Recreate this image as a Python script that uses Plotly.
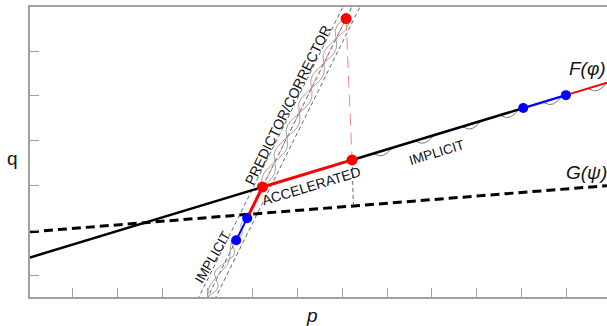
import numpy as np
import plotly.graph_objects as go

# ---- geometry of the two curves (p, q units) ----
F_INTERCEPT, F_SLOPE = 0.882, 0.3033      # F(phi): solid line
G_INTERCEPT, G_SLOPE = 1.454, 0.0802      # G(psi): dashed line
P_MAX, Q_MAX = 12.86, 6.472

# iteration points
implicit_low_p = [4.595, 4.84]            # implicit steps near G
implicit_low_q = [1.265, 1.76]
accel_p = [4.84, 5.18, 7.178]             # accelerated path
predictor_top = (7.045, 6.214)            # predictor overshoot
implicit_high_p = [10.993, 11.944]        # implicit steps along F
arc_starts = [7.65, 8.58, 9.63, 10.47, 11.43, 12.43]
band_offsets = [-0.2, 0.0, 0.18]
x_tick0, y_tick0 = 0.958, 0.49


def F(p):
    return F_INTERCEPT + F_SLOPE * np.asarray(p, dtype=float)


def G(p):
    return G_INTERCEPT + G_SLOPE * np.asarray(p, dtype=float)


accel_q = [implicit_low_q[1], float(F(accel_p[1])), float(F(accel_p[2]))]
implicit_high_q = [float(F(v)) for v in implicit_high_p]

# predictor direction through the first accelerated point
band_slope = (predictor_top[1] - accel_q[1]) / (predictor_top[0] - accel_p[1])


def band_p(q, off=0.0):
    return accel_p[1] + (np.asarray(q) - accel_q[1]) / band_slope + off


RED = "#ff0000"
BLUE = "#0000ff"
GRAY = "#555555"

fig = go.Figure()


def line(x, y, color, width, dash="solid"):
    fig.add_trace(go.Scatter(x=x, y=y, mode="lines", hoverinfo="skip",
                             line=dict(color=color, width=width, dash=dash)))


# predictor/corrector band
qq = np.array([-0.2, Q_MAX + 0.2])
for off in band_offsets:
    line(band_p(qq, off), qq, GRAY, 0.9, "4px,3px")

# braided corrector sweeps inside the band
def braid(q0, q1, amp, period, phase):
    q = np.linspace(q0, q1, 160)
    return band_p(q) + amp * np.sin(2 * np.pi * (q - q0) / period + phase), q

for ph in (0.0, np.pi):
    x, y = braid(accel_q[1], predictor_top[1], 0.12, 1.1, ph)
    line(x, y, "#8a8a8a", 0.8)
x, y = braid(0.0, implicit_low_q[0], 0.12, 0.75, 0.0)
line(x, y, "#8a8a8a", 0.8)
x, y = braid(0.0, implicit_low_q[0], 0.08, 1.0, np.pi)
line(x, y, "#8a8a8a", 0.8)
x, y = braid(implicit_low_q[0], implicit_low_q[1], 0.07, 0.5, 0.0)
line(x, y, "#8a8a8a", 0.8)

# implicit sweeps hanging under F
for s in arc_starts:
    p = np.linspace(s, min(s + 0.43, P_MAX), 30)
    line(p, F(p) - 0.11 * np.sin(np.pi * (p - s) / 0.43), "#666666", 0.9)

# G(psi)
line([0, P_MAX], list(G([0, P_MAX])), "black", 3, "9px,5px")

# F(phi) pieces
line([0, accel_p[1]], list(F([0, accel_p[1]])), "black", 2.5)
line([accel_p[2], implicit_high_p[0]], list(F([accel_p[2], implicit_high_p[0]])), "black", 2.5)
line([implicit_high_p[1], P_MAX], list(F([implicit_high_p[1], P_MAX])), RED, 2)

# predictor extrapolation and projection back onto F, then down to G
line([accel_p[1], predictor_top[0]], [accel_q[1], predictor_top[1]], "#e86a6a", 0.9, "5px,4px")
line([predictor_top[0], accel_p[2]], [predictor_top[1], accel_q[2]], "#f08a8a", 1, "12px,7px")
line([accel_p[2], accel_p[2] + 0.03], [accel_q[2], float(G(accel_p[2] + 0.03))], GRAY, 0.9, "4px,3px")

# implicit (blue) and accelerated (red) paths
line(implicit_low_p, implicit_low_q, BLUE, 2)
line(accel_p, accel_q, RED, 3)
line(implicit_high_p, implicit_high_q, BLUE, 2.5)

# markers
fig.add_trace(go.Scatter(x=implicit_low_p + implicit_high_p, y=implicit_low_q + implicit_high_q,
                         mode="markers", hoverinfo="skip",
                         marker=dict(color=BLUE, size=10, line=dict(width=0))))
fig.add_trace(go.Scatter(x=accel_p[1:] + [predictor_top[0]], y=accel_q[1:] + [predictor_top[1]],
                         mode="markers", hoverinfo="skip",
                         marker=dict(color=RED, size=11, line=dict(width=0))))

FONT = "Liberation Sans, Arial, sans-serif"


def label(text, x, y, size, angle=0, xanchor="center", italic=False, ref="data"):
    kw = {} if ref == "data" else dict(xref="paper", yref="paper")
    fig.add_annotation(x=x, y=y, text=f"<i>{text}</i>" if italic else text,
                       showarrow=False, textangle=angle, xanchor=xanchor, yanchor="middle",
                       font=dict(family=FONT, size=size, color="#111111"), **kw)


band_angle = -np.degrees(np.arctan(band_slope))
f_angle = -np.degrees(np.arctan(F_SLOPE))
label("PREDICTOR/CORRECTOR", 5.749, 4.283, 14, band_angle)
label("ACCELERATED", 6.261, 2.479, 14, f_angle)
label("IMPLICIT", 9.069, 3.236, 13.5, f_angle)
label("IMPLICIT", 4.066, 0.886, 13.5, -60)
label("F(φ)", 11.96, 5.107, 19, xanchor="left", italic=True)
label("G(ψ)", 11.9, 2.768, 19, xanchor="left", italic=True)
label("q", -0.031, 0.479, 19, ref="paper")
label("p", 0.4887, -0.0655, 19, italic=True, ref="paper")

axis_common = dict(showgrid=False, zeroline=False, showticklabels=False,
                   ticks="inside", ticklen=9, tickwidth=1.2, tickcolor="#a0a0a0",
                   showline=True, linecolor="#a0a0a0", linewidth=1.5, dtick=1)
fig.update_xaxes(range=[0, P_MAX], tick0=x_tick0, mirror=True, **axis_common)
fig.update_yaxes(range=[0, Q_MAX], tick0=y_tick0, mirror=False, **axis_common)

fig.update_layout(width=607, height=326, showlegend=False,
                  margin=dict(l=30, r=0, t=7, b=29),
                  plot_bgcolor="white", paper_bgcolor="white")

fig.write_html("out.html")
